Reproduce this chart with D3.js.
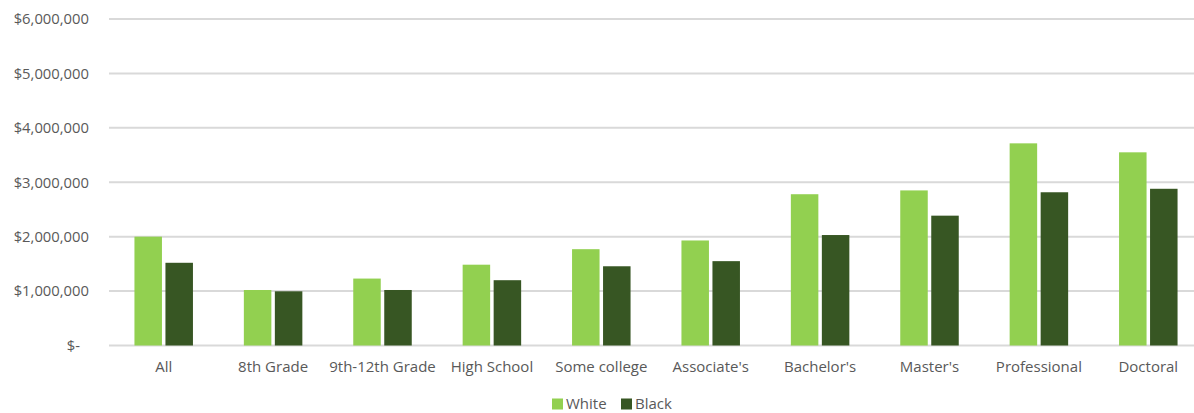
<!DOCTYPE html>
<html><head><meta charset="utf-8">
<script src="https://cdn.jsdelivr.net/npm/d3@7"></script>
<style>
body{margin:0;background:#fff;}
text{font-family:"Open Sans",sans-serif;fill:#595959;}
</style></head>
<body><svg id="c" width="1194" height="413"></svg>
<script>
const categories = ["All","8th Grade","9th-12th Grade","High School","Some college","Associate's","Bachelor's","Master's","Professional","Doctoral"];
const seriesNames = ["White","Black"];
const whiteValues = [2000000,1020000,1230000,1485000,1770000,1930000,2780000,2850000,3715000,3550000];
const blackValues = [1520000,996000,1020000,1200000,1456000,1550000,2030000,2386000,2816000,2880000];
const yTicks = [0,1000000,2000000,3000000,4000000,5000000,6000000];
const colors = ["#92d050","#375623"];

const svg = d3.select("#c");
const mLeft = 109, mRight = 1203, mTop = 19, mBottom = 345.5;

const x = d3.scaleBand().domain(categories).range([mLeft,mRight]).padding(0);
const y = d3.scaleLinear().domain([0,6000000]).range([mBottom,mTop]);

// gridlines
svg.append("g").selectAll("line").data(yTicks).join("line")
  .attr("x1",mLeft).attr("x2",mRight)
  .attr("y1",d=>y(d)).attr("y2",d=>y(d))
  .attr("stroke","#d9d9d9").attr("stroke-width",2);

// y axis labels
const fmt = d => d===0 ? "$-" : "$" + d3.format(",")(d);
const yAxis = svg.append("g").attr("transform",`translate(${mLeft},0)`)
  .call(d3.axisLeft(y).tickValues(yTicks).tickFormat(fmt).tickSize(0).tickPadding(20));
yAxis.select(".domain").remove();
yAxis.selectAll("text").style("font-family","'Open Sans',sans-serif").style("font-size","14.8px").attr("fill","#595959")
  .attr("dx", d => d===0 ? -9 : 0);

// bars
const barW = 27.5, gap = 3.5;
const sub = d3.scaleOrdinal().domain(seriesNames).range([-(barW+gap/2), gap/2]);
const data = [];
categories.forEach((c,i)=>{
  data.push({c, s:"White", v:whiteValues[i]});
  data.push({c, s:"Black", v:blackValues[i]});
});
svg.append("g").selectAll("rect").data(data).join("rect")
  .attr("x", d => x(d.c) + x.bandwidth()/2 + sub(d.s))
  .attr("width", barW)
  .attr("y", d => y(d.v))
  .attr("height", d => y(0) - y(d.v))
  .attr("fill", d => d.s==="White" ? colors[0] : colors[1]);

// x axis labels
const xAxis = svg.append("g").attr("transform",`translate(0,${mBottom})`)
  .call(d3.axisBottom(x).tickSize(0).tickPadding(16));
xAxis.select(".domain").remove();
xAxis.selectAll("text").style("font-family","'Open Sans',sans-serif").style("font-size","15px").attr("fill","#595959");

// legend
const lg = svg.append("g").attr("transform","translate(552,398.5)");
const items = [{n:"White",c:colors[0],x:0},{n:"Black",c:colors[1],x:69}];
items.forEach(it=>{
  lg.append("rect").attr("x",it.x).attr("y",0).attr("width",11).attr("height",11).attr("fill",it.c);
  lg.append("text").attr("x",it.x+14).attr("y",10.5).style("font-size","15px").text(it.n);
});
</script></body></html>
